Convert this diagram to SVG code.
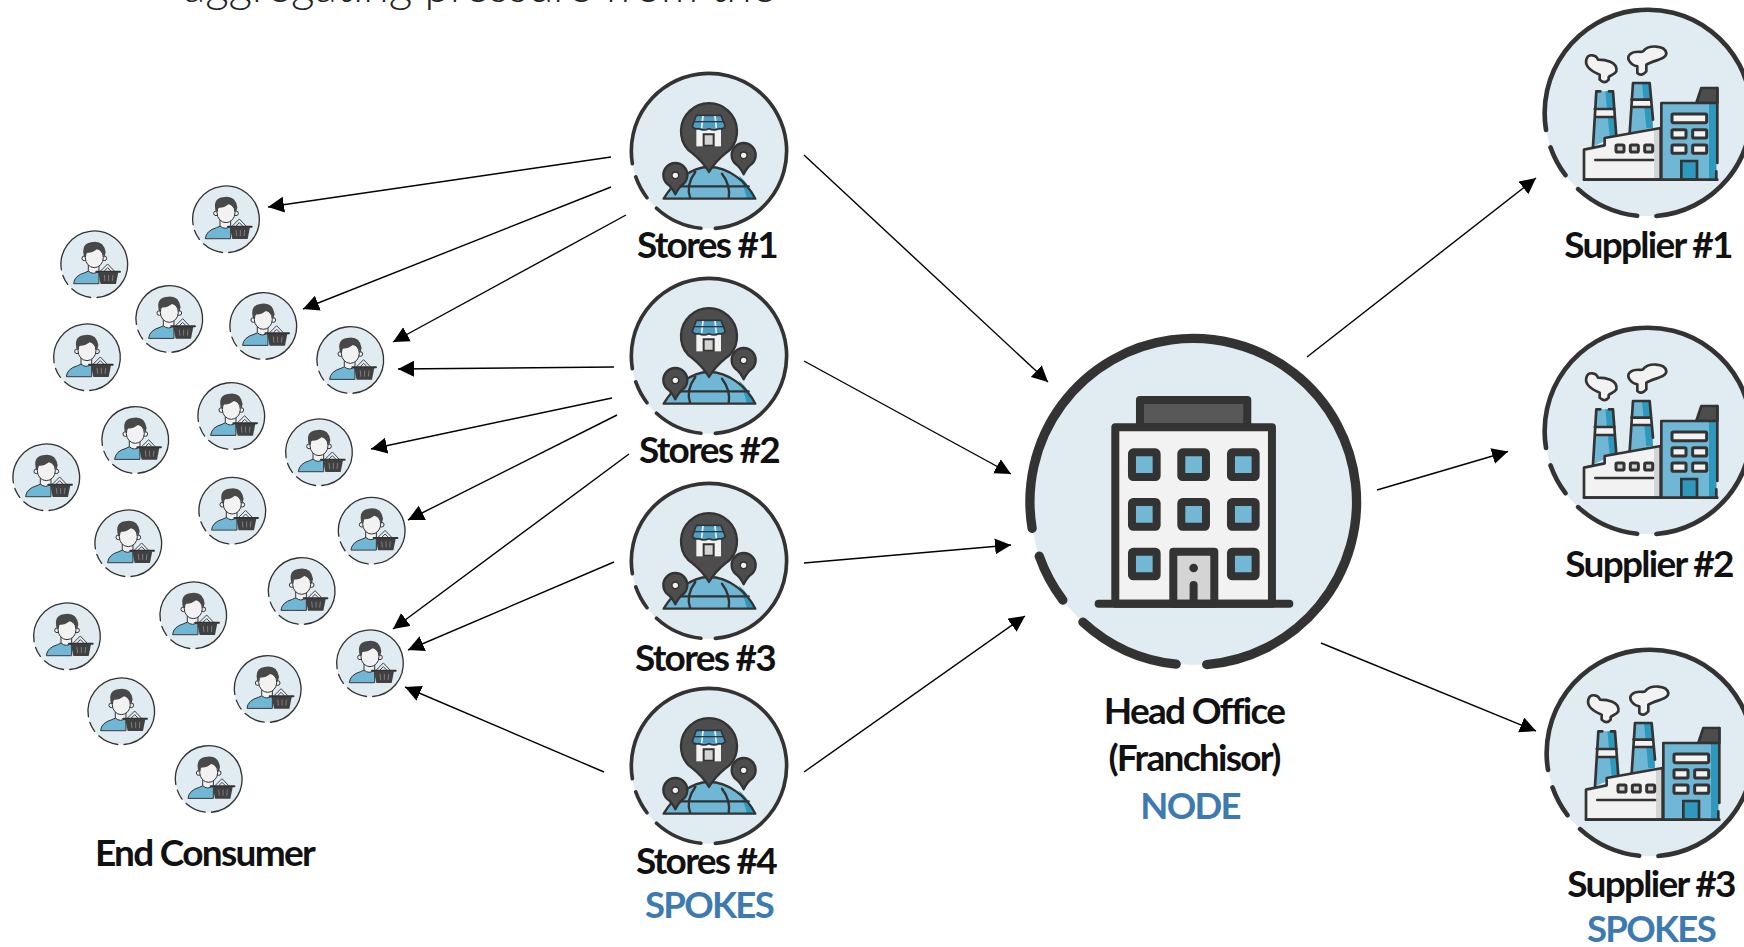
<svg xmlns="http://www.w3.org/2000/svg" width="1744" height="947" viewBox="0 0 1744 947">
<style>
text{font-family:Lato,"Liberation Sans",sans-serif;font-weight:700;text-anchor:middle;fill:#111;font-size:37px;letter-spacing:-1.7px}
.blue{fill:#3d7ab0;font-size:36.5px}
.top{font-weight:300;font-size:46px;text-anchor:start;letter-spacing:0;fill:#222}
.c{fill:none;stroke:#000;stroke-width:1.4;marker-end:url(#ah)}
.d{stroke:#333;stroke-linejoin:round;stroke-linecap:round}
</style>
<defs>
<marker id="ah" markerUnits="userSpaceOnUse" markerWidth="18" markerHeight="18" refX="16" refY="8" orient="auto"><path d="M0 0L16 8L0 16Z" fill="#000"/></marker>
<g id="ring"><circle r="100" fill="#e0ebf2"/><path d="M8.2 99.7A100 100 0 1 0-98.7 16.3M-94.3 33.4A100 100 0 0 0-79.9 60.2M-67.6 73.7A100 100 0 0 0-10.5 99.5" fill="none" stroke="#333" stroke-linecap="round"/></g>
<g id="person"><use href="#ring" stroke-width="4"/>
<g transform="translate(-678 -148)">
<path class="d" d="M616 205Q618 182 650 173L668 165L692 172V205Z" fill="#6fb7d4" stroke-width="3"/>
<path d="M660 145V168Q675 182 692 168V145Z" fill="#f2f2f2" stroke="#333" stroke-width="3"/>
<circle cx="648" cy="130" r="7" fill="#f2f2f2" stroke="#333" stroke-width="3"/><circle cx="708" cy="130" r="7" fill="#f2f2f2" stroke="#333" stroke-width="3"/>
<ellipse cx="678" cy="128" rx="27" ry="30" fill="#f2f2f2" stroke="#333" stroke-width="3"/>
<path d="M648 128Q636 86 668 82Q706 74 712 112L708 128Q702 106 686 103Q668 116 655 113Z" fill="#484848"/>
<path d="M697 168L718 147L738 168M708 168L718 158L728 168" fill="none" stroke="#444" stroke-width="3"/>
<path d="M690 172H750L743 207H697Z" fill="#404040"/>
<path d="M684 170H755" stroke="#333" stroke-width="6" stroke-linecap="round"/>
<path d="M708 180L710 198M721 180V198M734 180L732 198" stroke="#8a8a8a" stroke-width="2.5"/>
</g></g>
<g id="store"><use href="#ring" transform="scale(2.33)" stroke-width="4.7"/>
<g transform="translate(-296 -272)">
<path d="M160 415C190 365 240 320 296 320C355 320 410 365 435 415Z" fill="#6fb7d4"/>
<path d="M385 345C410 365 425 395 435 415H410Q400 375 385 345Z" fill="#2e98bd"/>
<path class="d" d="M160 415C190 365 240 320 296 320C355 320 410 365 435 415ZM180 378H415M255 335Q225 375 240 415M335 340Q362 375 355 415" fill="none" stroke-width="7"/>
<path class="d" d="M232 267A84 84 0 1 1 360 267C340 285 320 295 296 335C272 295 252 285 232 267Z" fill="#4d4d4d" stroke-width="7"/>
<path d="M258 205H332V258H258Z" fill="#f2f2f2"/><path d="M280 222H310V256H280Z" fill="#d4d4d4" stroke="#333" stroke-width="6"/>
<path d="M258 165H332L345 198Q340 208 325 205Q312 212 296 205Q280 212 266 205Q250 208 246 198Z" fill="#4f9fc4" stroke="#333" stroke-width="5"/>
<path d="M278 167L274 203M314 167L318 203" stroke="#e8f3f8" stroke-width="5"/><path d="M252 184H338" stroke="#333" stroke-width="4"/>
<path class="d" d="M375 310A36 36 0 1 1 425 310Q410 320 400 342Q390 320 375 310Z" fill="#4d4d4d" stroke-width="7"/><circle cx="400" cy="285" r="10" fill="#f2f2f2" stroke="#333" stroke-width="4"/>
<path class="d" d="M170 370A36 36 0 1 1 220 370Q205 380 195 402Q185 380 170 370Z" fill="#4d4d4d" stroke-width="7"/><circle cx="195" cy="345" r="10" fill="#f2f2f2" stroke="#333" stroke-width="4"/>
</g></g>
<g id="factory"><use href="#ring" transform="scale(3.1)" stroke-width="4.5"/>
<g transform="translate(-350 -340)">
<path d="M195 275H245L255 410L185 440Z" fill="#6fb7d4"/><path d="M222 275H245L255 410H235Z" fill="#2e98bd"/><path d="M190 328H250V352H190Z" fill="#f2f2f2"/>
<path class="d" d="M195 275L185 440M245 275L255 410M190 328H250M190 352H250M195 275H207M233 275H245" fill="none" stroke-width="8"/>
<path d="M305 250H355L365 385L295 400Z" fill="#6fb7d4"/><path d="M332 250H355L365 385H345Z" fill="#2e98bd"/><path d="M300 300H360V322H300Z" fill="#f2f2f2"/>
<path class="d" d="M305 250L295 400M355 250L365 360M300 300H360M300 322H360M305 250H355" fill="none" stroke-width="8"/>
<path class="d" d="M205 240V225C180 215 160 200 165 180C170 160 195 165 200 180C220 180 260 185 255 215C250 225 235 228 232 232V240Q220 255 205 240Z" fill="#f2f2f2" stroke-width="8"/>
<path class="d" d="M318 220V200C295 195 285 175 295 165C310 150 330 160 335 155C350 135 400 135 405 160C405 180 370 180 345 195V215Q330 232 318 220Z" fill="#f2f2f2" stroke-width="8"/>
<path d="M495 310L510 265H558V310Z" fill="#4d4d4d" stroke="#333" stroke-width="8" stroke-linejoin="round"/>
<path d="M390 310H555V540H390Z" fill="#6fb7d4"/><path d="M533 312H555V540H533Z" fill="#2e98bd"/>
<path class="d" d="M390 540V310H555M558 265V490M555 515V540" fill="none" stroke-width="8"/>
<rect x="422" y="343" width="104" height="26" rx="4" fill="#f2f2f2" stroke="#333" stroke-width="9"/>
<g fill="#f2f2f2" stroke="#333" stroke-width="9"><rect x="422" y="390" width="42" height="25" rx="4"/><rect x="484" y="390" width="42" height="25" rx="4"/><rect x="422" y="436" width="42" height="25" rx="4"/><rect x="484" y="436" width="42" height="25" rx="4"/></g>
<path d="M450 540V484H497V540Z" fill="#2e98bd" stroke="#333" stroke-width="8"/>
<path d="M158 450L220 437V415L388 385V540H158Z" fill="#f2f2f2"/><path d="M368 390L388 385V540H368Z" fill="#d4d4d4"/>
<path class="d" d="M158 450L220 437V415L388 385V540H158Z" fill="none" stroke-width="8"/>
<g fill="#d4d4d4" stroke="#333" stroke-width="9"><rect x="254" y="436" width="24" height="21" rx="4"/><rect x="297" y="436" width="24" height="21" rx="4"/><rect x="340" y="436" width="24" height="21" rx="4"/></g>
<path class="d" d="M192 481H365M158 540H558" fill="none" stroke-width="8"/>
</g></g>
<g id="win"><rect x="-37" y="-37" width="74" height="74" rx="4" fill="#72b7d4" stroke="#333" stroke-width="24" stroke-linejoin="round"/></g>
<g id="office"><use href="#ring" transform="scale(4.9)" stroke-width="5.7"/>
<g transform="translate(-550 -545)">
<path class="d" d="M390 322V240H712V322Z" fill="#585858" stroke-width="24"/>
<path class="d" d="M316 851V322H786V851Z" fill="#f2f2f2" stroke-width="24"/>
<use href="#win" x="403" y="434"/><use href="#win" x="551" y="434"/><use href="#win" x="700" y="434"/>
<use href="#win" x="403" y="583"/><use href="#win" x="551" y="583"/><use href="#win" x="700" y="583"/>
<use href="#win" x="403" y="732"/><use href="#win" x="700" y="732"/>
<path class="d" d="M490 851V695H613V851Z" fill="#d4d4d4" stroke-width="24"/>
<circle cx="551" cy="744" r="13" fill="#333"/>
<path class="d" d="M266 851H838M551 795V851" fill="none" stroke-width="24"/>
</g></g>
</defs>
<rect width="1744" height="947" fill="#fff"/>
<text class="top" x="183" y="1.5">aggregating pressure from the</text>
<g id="connectors">
<path class="c" d="M611 157L268 207"/><path class="c" d="M611 187L303 309"/><path class="c" d="M626 215L393 342"/><path class="c" d="M614 367L398 369"/><path class="c" d="M612 398L371 449"/><path class="c" d="M617 415L408 520"/><path class="c" d="M629 454L393 629"/><path class="c" d="M614 562L408 650"/><path class="c" d="M604 772L405 687"/>
<path class="c" d="M804 155L1048 382"/><path class="c" d="M804 361L1011 474"/><path class="c" d="M804 563L1011 545"/><path class="c" d="M804 772L1025 616"/>
<path class="c" d="M1307 357L1536 178"/><path class="c" d="M1377 490L1508 451.5"/><path class="c" d="M1321 643L1536 731"/>
</g>
<g id="consumers">
<g id="consumer-1"><use href="#person" transform="translate(226 219.3) scale(.3333)"/></g>
<g id="consumer-2"><use href="#person" transform="translate(94.3 264.3) scale(.3333)"/></g>
<g id="consumer-3"><use href="#person" transform="translate(169.3 319) scale(.3333)"/></g>
<g id="consumer-4"><use href="#person" transform="translate(263.3 326) scale(.3333)"/></g>
<g id="consumer-5"><use href="#person" transform="translate(350.3 360) scale(.3333)"/></g>
<g id="consumer-6"><use href="#person" transform="translate(87 357.3) scale(.3333)"/></g>
<g id="consumer-7"><use href="#person" transform="translate(231.3 416) scale(.3333)"/></g>
<g id="consumer-8"><use href="#person" transform="translate(135.3 440) scale(.3333)"/></g>
<g id="consumer-9"><use href="#person" transform="translate(319 452.3) scale(.3333)"/></g>
<g id="consumer-10"><use href="#person" transform="translate(46.3 477.3) scale(.3333)"/></g>
<g id="consumer-11"><use href="#person" transform="translate(232.3 510.7) scale(.3333)"/></g>
<g id="consumer-12"><use href="#person" transform="translate(371.7 530.7) scale(.3333)"/></g>
<g id="consumer-13"><use href="#person" transform="translate(128.3 543.3) scale(.3333)"/></g>
<g id="consumer-14"><use href="#person" transform="translate(301.7 591) scale(.3333)"/></g>
<g id="consumer-15"><use href="#person" transform="translate(193.3 615.3) scale(.3333)"/></g>
<g id="consumer-16"><use href="#person" transform="translate(67 636.3) scale(.3333)"/></g>
<g id="consumer-17"><use href="#person" transform="translate(370 663.3) scale(.3333)"/></g>
<g id="consumer-18"><use href="#person" transform="translate(267.7 689) scale(.3333)"/></g>
<g id="consumer-19"><use href="#person" transform="translate(121.3 711.3) scale(.3333)"/></g>
<g id="consumer-20"><use href="#person" transform="translate(208.7 779) scale(.3333)"/></g>
<text x="204.5" y="866">End Consumer</text>
</g>
<g id="store-1"><use href="#store" transform="translate(709 151) scale(.3333)"/><text x="707" y="258">Stores #1</text></g>
<g id="store-2"><use href="#store" transform="translate(709 356) scale(.3333)"/><text x="709" y="463">Stores #2</text></g>
<g id="store-3"><use href="#store" transform="translate(709 561) scale(.3333)"/><text x="705" y="671">Stores #3</text></g>
<g id="store-4"><use href="#store" transform="translate(709 766) scale(.3333)"/><text x="706" y="874">Stores #4</text><text class="blue" x="709" y="918">SPOKES</text></g>
<g id="head-office"><use href="#office" transform="translate(1193.3 501.7) scale(.3333)"/><text x="1194" y="724">Head Office</text><text x="1194" y="771">(Franchisor)</text><text class="blue" x="1190" y="819">NODE</text></g>
<g id="supplier-1"><use href="#factory" transform="translate(1648 113) scale(.3333)"/><text x="1648" y="258">Supplier #1</text></g>
<g id="supplier-2"><use href="#factory" transform="translate(1648 431) scale(.3333)"/><text x="1649" y="577">Supplier #2</text></g>
<g id="supplier-3"><use href="#factory" transform="translate(1650 753) scale(.3333)"/><text x="1651" y="897">Supplier #3</text><text class="blue" x="1651" y="942">SPOKES</text></g>
</svg>
